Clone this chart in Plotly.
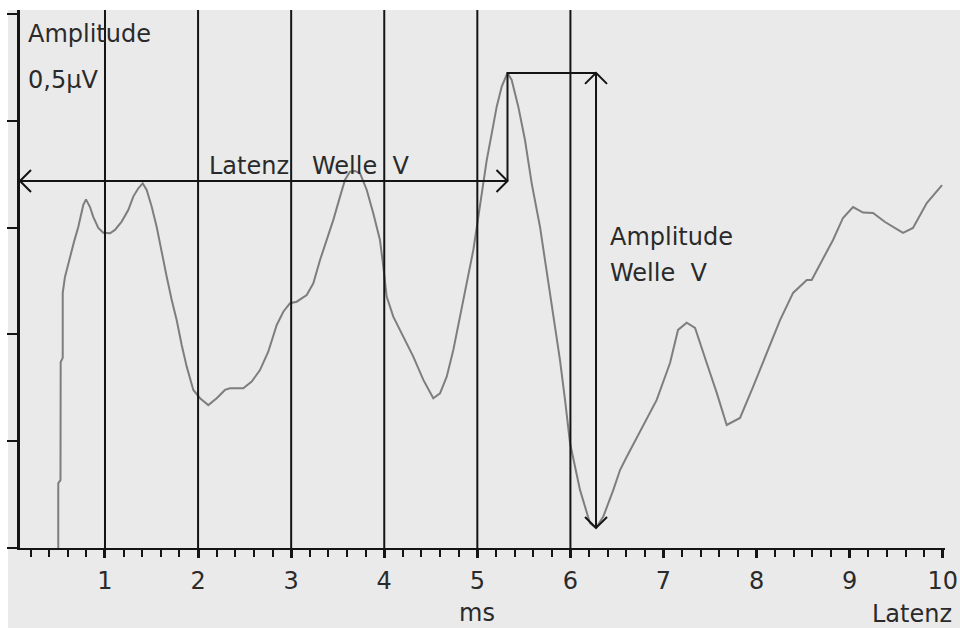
import plotly.graph_objects as go

# Averaged evoked response: latency (ms) and amplitude (µV)
latency_ms = [
    0.498, 0.498, 0.522, 0.524, 0.546, 0.546, 0.570, 0.606, 0.642, 0.667,
    0.713, 0.742, 0.767, 0.796, 0.839, 0.874, 0.928, 0.982, 1.054, 1.107,
    1.179, 1.250, 1.304, 1.358, 1.405, 1.448, 1.502, 1.555, 1.609, 1.663,
    1.717, 1.770, 1.824, 1.878, 1.949, 2.021, 2.110, 2.200, 2.289, 2.343,
    2.486, 2.576, 2.665, 2.754, 2.845, 2.916, 2.988, 3.059, 3.167, 3.238,
    3.310, 3.382, 3.453, 3.525, 3.578, 3.632, 3.686, 3.740, 3.812, 3.882,
    3.954, 3.990, 4.026, 4.097, 4.205, 4.312, 4.420, 4.527, 4.599, 4.671,
    4.742, 4.814, 4.886, 4.957, 5.011, 5.047, 5.101, 5.155, 5.208, 5.262,
    5.324, 5.369, 5.440, 5.512, 5.584, 5.673, 5.781, 5.888, 5.942, 5.996,
    6.103, 6.210, 6.275, 6.353, 6.461, 6.533, 6.605, 6.672, 6.780, 6.927,
    7.070, 7.156, 7.249, 7.339, 7.464, 7.572, 7.679, 7.822, 7.962, 8.109,
    8.252, 8.392, 8.539, 8.592, 8.681, 8.821, 8.928, 9.036, 9.144, 9.251,
    9.380, 9.573, 9.680, 9.828, 9.992,
]
amplitude_uv = [
    0.000, 0.304, 0.318, 0.871, 0.890, 1.194, 1.269, 1.334, 1.386, 1.433,
    1.503, 1.568, 1.606, 1.632, 1.596, 1.550, 1.498, 1.476, 1.473, 1.489,
    1.528, 1.582, 1.645, 1.684, 1.707, 1.676, 1.598, 1.504, 1.380, 1.270,
    1.161, 1.067, 0.950, 0.849, 0.740, 0.701, 0.669, 0.701, 0.740, 0.748,
    0.748, 0.779, 0.833, 0.919, 1.044, 1.106, 1.146, 1.153, 1.184, 1.239,
    1.348, 1.442, 1.536, 1.645, 1.723, 1.762, 1.765, 1.754, 1.676, 1.567,
    1.442, 1.317, 1.177, 1.083, 0.989, 0.896, 0.787, 0.701, 0.724, 0.802,
    0.927, 1.083, 1.239, 1.395, 1.551, 1.653, 1.816, 1.941, 2.066, 2.160,
    2.224, 2.191, 2.066, 1.910, 1.707, 1.504, 1.192, 0.880, 0.693, 0.490,
    0.272, 0.116, 0.094, 0.147, 0.272, 0.365, 0.427, 0.482, 0.566, 0.693,
    0.866, 1.021, 1.055, 1.030, 0.866, 0.726, 0.576, 0.609, 0.754, 0.913,
    1.067, 1.194, 1.255, 1.255, 1.325, 1.442, 1.545, 1.596, 1.570, 1.568,
    1.526, 1.475, 1.498, 1.615, 1.699,
]

# Vertical reference lines (ms) and axis ticks
marker_ms = [1, 2, 3, 4, 5, 6]
x_tick_vals = [1, 2, 3, 4, 5, 6, 7, 8, 9, 10]
x_tick_text = ["1", "2", "3", "4", "5", "6", "7", "8", "9", "10"]
y_tick_vals = [0.0, 0.5, 1.0, 1.5, 2.0, 2.5]

X_RANGE = [0.087, 10.024]
Y_RANGE = [0.0, 2.5185]
LATENCY_LEVEL = 1.718      # height of the latency arrow (µV)

W, H = 960, 628
MARGIN = dict(l=20, r=15, t=10, b=80)
PLOT_W = W - MARGIN["l"] - MARGIN["r"]
PLOT_H = H - MARGIN["t"] - MARGIN["b"]
PX_PER_MS = PLOT_W / (X_RANGE[1] - X_RANGE[0])
PX_PER_UV = PLOT_H / (Y_RANGE[1] - Y_RANGE[0])
ARM_PX = 11                # arrowhead arm length

GREY_BG = "#eaeaea"
INK = "#141414"
TEXT = "#2a2a2a"
WAVE = "#7e7e7e"
FONT = "DejaVu Sans"

# Wave V: the largest positive peak and the trough that follows it
peak_i = max(range(len(amplitude_uv)), key=lambda i: amplitude_uv[i])
trough_i = min(range(peak_i, len(amplitude_uv)), key=lambda i: amplitude_uv[i])
peak_x, peak_y = latency_ms[peak_i], amplitude_uv[peak_i]
trough_x, trough_y = latency_ms[trough_i], amplitude_uv[trough_i]


def chevron(tx, ty, direction):
    """Open 'V' arrowhead with its tip at (tx, ty)."""
    dx = ARM_PX / PX_PER_MS
    dy = ARM_PX / PX_PER_UV
    if direction == "left":
        return [tx + dx, tx, tx + dx, None], [ty + dy, ty, ty - dy, None]
    if direction == "right":
        return [tx - dx, tx, tx - dx, None], [ty + dy, ty, ty - dy, None]
    if direction == "up":
        return [tx - dx, tx, tx + dx, None], [ty - dy, ty, ty - dy, None]
    return [tx - dx, tx, tx + dx, None], [ty + dy, ty, ty + dy, None]


def paper_x(ms):
    return (ms - X_RANGE[0]) / (X_RANGE[1] - X_RANGE[0])


fig = go.Figure()

fig.add_trace(go.Scatter(
    x=latency_ms, y=amplitude_uv, mode="lines",
    line=dict(color=WAVE, width=2), hoverinfo="skip",
))

# Latency arrow, step up to the peak, and amplitude bracket
bx = [X_RANGE[0], peak_x, None, peak_x, peak_x, trough_x, None, trough_x, trough_x]
by = [LATENCY_LEVEL, LATENCY_LEVEL, None, LATENCY_LEVEL, peak_y, peak_y, None, peak_y, trough_y]
fig.add_trace(go.Scatter(x=bx, y=by, mode="lines",
                         line=dict(color=INK, width=2), hoverinfo="skip"))

hx, hy = [], []
for tx, ty, d in [(X_RANGE[0], LATENCY_LEVEL, "left"),
                  (peak_x, LATENCY_LEVEL, "right"),
                  (trough_x, peak_y, "up"),
                  (trough_x, trough_y, "down")]:
    cx, cy = chevron(tx, ty, d)
    hx += cx
    hy += cy
fig.add_trace(go.Scatter(x=hx, y=hy, mode="lines",
                         line=dict(color=INK, width=2), hoverinfo="skip"))

# White frame strip along the top and left edges of the grey panel
shapes = [
    dict(type="rect", xref="paper", yref="paper",
         x0=-0.1, x1=1.1, y0=1.0, y1=1.2,
         fillcolor="white", line=dict(width=0), layer="below"),
    dict(type="rect", xref="paper", yref="paper",
         x0=-0.1, x1=-12 / PLOT_W, y0=-0.4, y1=1.2,
         fillcolor="white", line=dict(width=0), layer="below"),
]
for m in marker_ms:
    shapes.append(dict(type="line", xref="x", yref="y domain",
                       x0=m, x1=m, y0=0, y1=1,
                       line=dict(color=INK, width=2), layer="above"))

annotations = []


def label(text, x, y, xanchor="left", xref="x", yref="y"):
    annotations.append(dict(text=text, x=x, y=y, xref=xref, yref=yref,
                            xanchor=xanchor, yanchor="middle", showarrow=False,
                            font=dict(family=FONT, size=24, color=TEXT)))


label("Amplitude", 0.151, 2.406)
label("0,5µV", 0.151, 2.192)
label("Latenz\u00a0\u00a0\u00a0Welle\u00a0\u00a0V", 2.096, 1.788)
label("Amplitude", 6.404, 1.457)
label("Welle\u00a0\u00a0V", 6.404, 1.289)
label("ms", paper_x(5.0), -0.1203, xanchor="center", xref="paper", yref="paper")
label("Latenz", paper_x(10.12), -0.1234, xanchor="right", xref="paper", yref="paper")

fig.update_layout(
    width=W, height=H, margin=MARGIN,
    paper_bgcolor=GREY_BG, plot_bgcolor=GREY_BG,
    showlegend=False,
    font=dict(family=FONT, size=24, color=TEXT),
    shapes=shapes, annotations=annotations,
    xaxis=dict(
        range=X_RANGE, tickmode="array", tickvals=x_tick_vals, ticktext=x_tick_text,
        ticks="outside", ticklen=8, tickwidth=3, tickcolor=INK,
        showline=True, linecolor=INK, linewidth=2,
        showgrid=False, zeroline=False, automargin=False,
        ticklabelstandoff=2,
        tickfont=dict(family=FONT, size=24, color=TEXT),
        minor=dict(dtick=0.2, tick0=0, ticks="outside", ticklen=7,
                   tickwidth=1.5, tickcolor=INK, showgrid=False),
    ),
    yaxis=dict(
        range=Y_RANGE, tickmode="array", tickvals=y_tick_vals,
        showticklabels=False, ticks="outside", ticklen=10, tickwidth=2,
        tickcolor=INK, showline=True, linecolor=INK, linewidth=3,
        showgrid=False, zeroline=False, automargin=False,
    ),
)

fig.write_html("out.html")
